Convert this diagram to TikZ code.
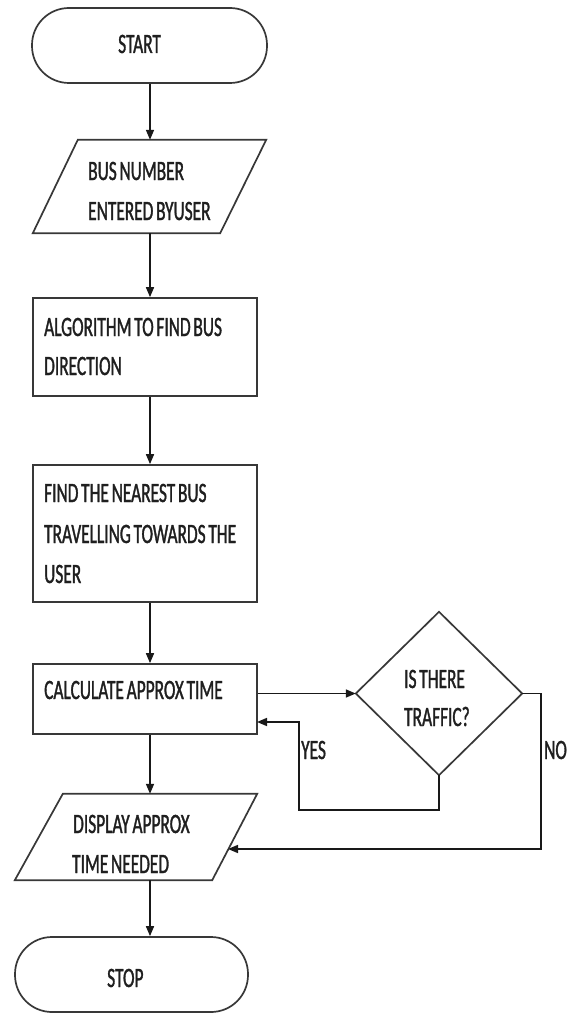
\documentclass[tikz,border=0pt]{standalone}
\usepackage{fontspec}
\setmainfont{Carlito}[FakeStretch=0.62,WordSpace=0.7,FakeBold=1.2]
\usetikzlibrary{arrows.meta,calc}
\begin{document}
\begin{tikzpicture}[x=1pt,y=-1pt,
  shapeline/.style={draw=black!78, line width=1.7pt, line join=miter},
  arr/.style={draw=black!90, line width=1.6pt, -{Triangle[length=10pt,width=8pt]}},
  term/.style={shapeline, rectangle, rounded corners=37pt, minimum height=75pt, inner sep=0pt},
  procbox/.style={shapeline, rectangle, minimum width=224pt, inner sep=0pt},
  ghost/.style={rectangle, inner sep=0pt},
  txt/.style={anchor=base west, inner sep=0pt, font=\fontsize{28}{32}\selectfont, text=black!88}
]
\useasboundingbox[fill=white] (0,0) rectangle (576,1014);

% shapes
\node[term, minimum width=235pt] (start) at (149.5,45.5) {};
\node[ghost, minimum width=233pt, minimum height=93pt] (in1) at (149.5,186.5) {};
\draw[shapeline] ($(in1.north west)+(45,0)$) -- (in1.north east) -- ($(in1.south east)+(-46,0)$) -- (in1.south west) -- cycle;
\node[procbox, minimum height=98pt] (alg) at (145,347) {};
\node[procbox, minimum height=137pt] (find) at (145,533.5) {};
\node[procbox, minimum height=70pt] (calc) at (145,699) {};
\node[ghost, minimum width=166pt, minimum height=163pt] (dec) at (439,693.5) {};
\draw[shapeline] (dec.west) -- (dec.north) -- (dec.east) -- (dec.south) -- cycle;
\node[ghost, minimum width=242pt, minimum height=86pt] (disp) at (136,837) {};
\draw[shapeline] ($(disp.north west)+(48,0)$) -- (disp.north east) -- ($(disp.south east)+(-45,0)$) -- (disp.south west) -- cycle;
\node[term, minimum width=233pt] (stop) at (131.5,974.5) {};

% texts
\node[txt] (tstart) at (118,53) {START};
\node[txt] (tin1a) at (88,180) {BUS NUMBER};
\node[txt] (tin1b) at (88,220) {ENTERED BYUSER};
\node[txt] (talga) at (44,336) {ALGORITHM TO FIND BUS};
\node[txt] (talgb) at (44,375) {DIRECTION};
\node[txt] (tfinda) at (44,502) {FIND THE NEAREST BUS};
\node[txt] (tfindb) at (44,543) {TRAVELLING TOWARDS THE};
\node[txt] (tfindc) at (44,583) {USER};
\node[txt] (tcalc) at (44,699) {CALCULATE APPROX TIME};
\node[txt] (tdeca) at (404,688) {IS THERE};
\node[txt] (tdecb) at (404,726) {TRAFFIC?};
\node[txt] (tyes) at (301,759) {YES};
\node[txt] (tno) at (544,759) {NO};
\node[txt] (tdispa) at (73,833) {DISPLAY APPROX};
\node[txt] (tdispb) at (72,873) {TIME NEEDED};
\node[txt] (tstop) at (107,987) {STOP};

% connectors
\coordinate (ax) at (150,0);
\draw[arr] (start.south -| ax) -- (in1.north -| ax);
\draw[arr] (in1.south -| ax) -- (alg.north -| ax);
\draw[arr] (alg.south -| ax) -- (find.north -| ax);
\draw[arr] (find.south -| ax) -- (calc.north -| ax);
\draw[arr] (calc.east |- dec.west) -- (dec.west);
\coordinate (yb) at (299,810);
\coordinate (yret) at (257,722);
\draw[arr] (dec.south) |- (yb) |- (yret);
\coordinate (nb) at (541,849);
\coordinate (noend) at (228,849);
\draw[arr] (dec.east) -| (nb) -- (noend);
\draw[arr] (calc.south -| ax) -- (disp.north -| ax);
\draw[arr] (disp.south -| ax) -- (stop.north -| ax);
\end{tikzpicture}
\end{document}
